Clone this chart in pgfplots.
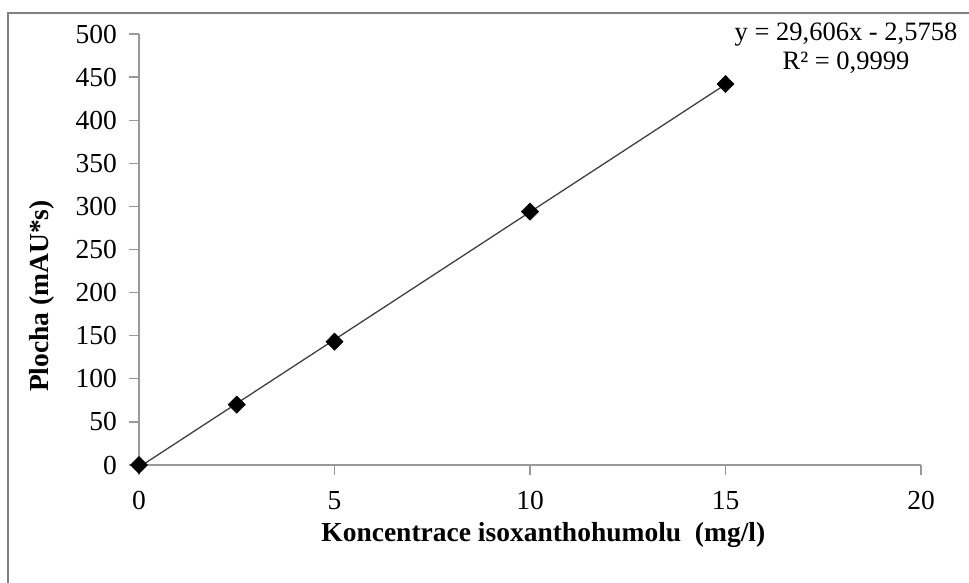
\documentclass[border=0pt]{standalone}
\usepackage{pgfplots}
\pgfplotsset{compat=1.18}
\usepackage{fontspec}
\setmainfont{Liberation Serif}
\begin{document}
\fontsize{27}{32}\selectfont
\begin{tikzpicture}
\useasboundingbox (0pt,0pt) rectangle (969pt,583pt);
\fill[white] (0pt,0pt) rectangle (969pt,583pt);
\draw[color=black!50, line width=2pt] (8pt,-2pt) -- (8pt,570pt) -- (971pt,570pt);
\begin{axis}[
  at={(139pt,118pt)}, anchor=south west,
  scale only axis, width=782pt, height=431pt,
  xmin=0, xmax=20, ymin=0, ymax=500,
  xtick={0,5,10,15,20}, ytick={0,50,...,500},
  axis lines*=left,
  axis line style={color=black!40, line width=1.3pt, -},
  tick style={color=black!40, line width=1.3pt},
  tick align=outside, major tick length=10pt,
  /pgf/number format/assume math mode=true,
  ticklabel style={font=\fontsize{27.5}{32}\selectfont},
  yticklabel style={xshift=-3pt},
  xticklabel style={yshift=-7pt},
  clip=false,
  xlabel={\textbf{Koncentrace isoxanthohumolu\ \ (mg/l)}},
  ylabel={\textbf{Plocha (mAU*s)}},
  xlabel style={at={(axis description cs:0.517,-0.162)}, anchor=center, font=\fontsize{27.5}{32}\selectfont},
  ylabel style={at={(axis description cs:-0.124,0.392)}, anchor=center, rotate=0, font=\fontsize{27.5}{32}\selectfont},
]
\addplot[color=black!75, line width=1.3pt, no markers] coordinates {(0,-2.5758) (15,441.5142)};
\addplot[only marks, mark=diamond*, mark size=8.7pt, mark options={fill=black, draw=black, xscale=1.333, line join=round}] coordinates {
(0,0) (2.5,70) (5,143) (10,294) (15,442)};
\end{axis}
\node[align=center, font=\fontsize{26.5}{28.5}\selectfont] at (846pt,535pt) {y = 29,606x - 2,5758\\R² = 0,9999};
\end{tikzpicture}
\end{document}
